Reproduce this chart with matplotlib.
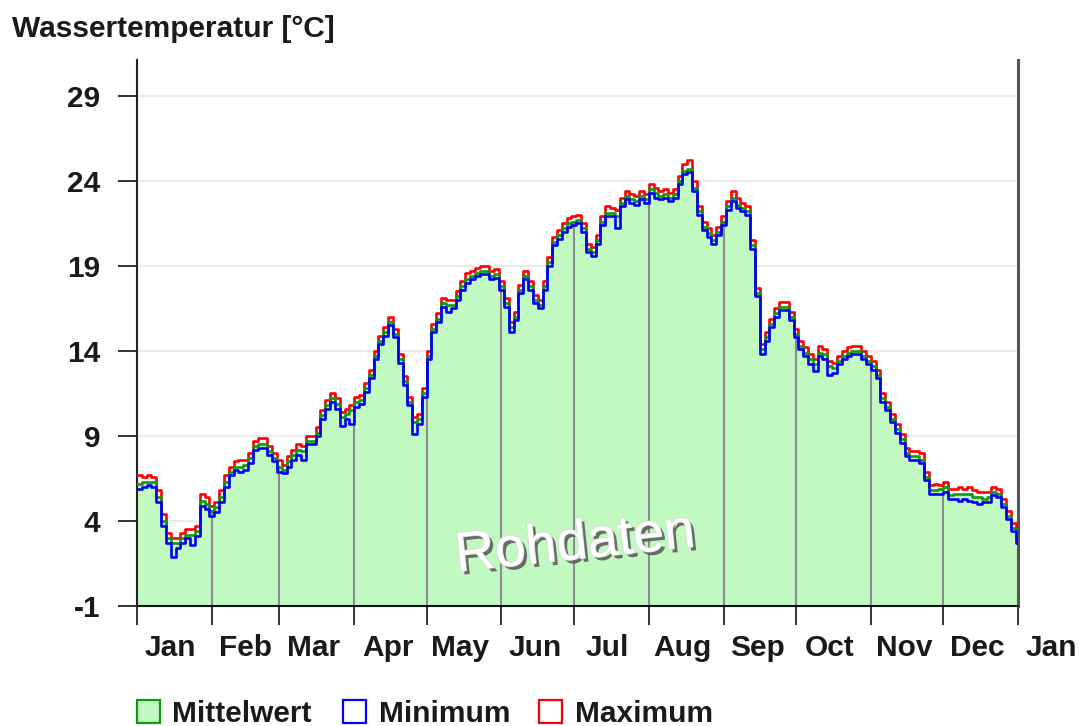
import matplotlib
matplotlib.use("Agg")
import matplotlib.pyplot as plt
import matplotlib.patheffects as pe
import matplotlib.transforms as mtransforms
from matplotlib.patches import Rectangle
import numpy as np

# ---- data: water temperature [°C], one reading every second day (day 0 = 1 Jan) ----
day_step = 2

mittelwert = [
    6.2, 6.3, 6.3, 6.3, 5.4, 4.0, 3.0, 2.7, 2.7, 3.0,
    3.2, 3.2, 3.4, 5.2, 5.0, 4.6, 4.8, 5.4, 6.3, 6.9,
    7.2, 7.2, 7.3, 7.7, 8.4, 8.5, 8.5, 8.1, 7.7, 7.2,
    7.0, 7.5, 7.9, 8.2, 8.1, 8.7, 8.7, 9.2, 10.2, 10.8,
    11.2, 10.9, 10.1, 10.3, 10.5, 11.0, 11.1, 11.8, 12.6, 13.7,
    14.6, 15.1, 15.7, 15.0, 13.5, 12.2, 11.0, 9.8, 10.0, 11.5,
    13.7, 15.3, 15.9, 16.8, 16.7, 16.7, 17.2, 17.8, 18.2, 18.4,
    18.6, 18.7, 18.7, 18.4, 18.5, 17.8, 16.8, 15.4, 16.0, 17.6,
    18.4, 17.8, 17.0, 16.7, 17.8, 19.2, 20.4, 20.8, 21.2, 21.5,
    21.6, 21.7, 21.2, 20.0, 19.8, 20.5, 21.6, 22.1, 22.1, 21.9,
    22.7, 23.1, 22.9, 22.8, 23.1, 22.9, 23.5, 23.3, 23.1, 23.2,
    23.0, 23.2, 24.0, 24.6, 24.7, 23.6, 22.2, 21.3, 20.9, 20.5,
    21.0, 21.6, 22.5, 23.0, 22.6, 22.4, 22.2, 20.2, 17.4, 14.1,
    14.8, 15.6, 16.2, 16.6, 16.6, 16.0, 15.0, 14.3, 13.9, 13.5,
    13.2, 13.9, 13.8, 13.1, 13.0, 13.4, 13.7, 13.9, 14.0, 14.0,
    13.7, 13.4, 13.1, 12.6, 11.2, 10.7, 10.0, 9.4, 8.8, 8.0,
    7.8, 7.8, 7.6, 6.6, 5.8, 5.8, 5.9, 6.0, 5.5, 5.6,
    5.6, 5.6, 5.6, 5.4, 5.4, 5.3, 5.4, 5.7, 5.6, 5.0,
    4.3, 3.6, 3.0,
]

minimum = [
    5.9, 6.0, 6.1, 6.0, 5.1, 3.7, 2.7, 1.9, 2.4, 2.7,
    3.0, 2.6, 3.1, 4.9, 4.7, 4.3, 4.5, 5.1, 6.0, 6.7,
    7.0, 6.9, 7.0, 7.4, 8.2, 8.3, 8.3, 7.9, 7.5, 6.9,
    6.8, 7.2, 7.6, 7.9, 7.6, 8.5, 8.5, 9.0, 10.0, 10.6,
    11.0, 10.6, 9.6, 10.0, 9.7, 10.7, 10.9, 11.6, 12.4, 13.5,
    14.4, 14.9, 15.5, 14.8, 13.3, 12.0, 10.8, 9.1, 9.7, 11.3,
    13.5, 15.1, 15.7, 16.6, 16.3, 16.5, 17.0, 17.6, 18.0, 18.2,
    18.4, 18.5, 18.5, 18.2, 18.3, 17.6, 16.6, 15.1, 15.8, 17.4,
    18.2, 17.6, 16.8, 16.5, 17.6, 19.0, 20.2, 20.6, 21.0, 21.3,
    21.4, 21.5, 21.0, 19.8, 19.6, 20.3, 21.4, 21.9, 21.9, 21.2,
    22.5, 22.9, 22.7, 22.6, 22.9, 22.7, 23.3, 23.0, 22.9, 23.0,
    22.8, 23.0, 23.8, 24.4, 24.5, 23.4, 22.0, 21.1, 20.7, 20.3,
    20.8, 21.4, 22.3, 22.8, 22.4, 22.2, 22.0, 20.0, 17.2, 13.8,
    14.6, 15.4, 16.0, 16.4, 16.4, 15.8, 14.8, 14.1, 13.7, 13.2,
    12.8, 13.7, 13.5, 12.6, 12.7, 13.2, 13.5, 13.7, 13.8, 13.8,
    13.5, 13.2, 12.9, 12.4, 11.0, 10.5, 9.8, 9.2, 8.6, 7.8,
    7.6, 7.6, 7.4, 6.4, 5.6, 5.6, 5.6, 5.7, 5.3, 5.3,
    5.2, 5.3, 5.2, 5.1, 5.0, 5.1, 5.1, 5.5, 5.4, 4.8,
    4.1, 3.4, 2.7,
]

maximum = [
    6.7, 6.6, 6.7, 6.6, 5.8, 4.4, 3.3, 3.0, 3.0, 3.3,
    3.5, 3.5, 3.7, 5.6, 5.4, 4.9, 5.1, 5.8, 6.7, 7.2,
    7.5, 7.6, 7.6, 8.0, 8.7, 8.9, 8.9, 8.4, 8.0, 7.6,
    7.3, 7.8, 8.2, 8.5, 8.4, 9.0, 9.0, 9.5, 10.5, 11.1,
    11.5, 11.2, 10.4, 10.6, 10.8, 11.3, 11.4, 12.1, 12.9, 14.0,
    14.9, 15.4, 16.0, 15.3, 13.8, 12.5, 11.3, 10.1, 10.3, 11.8,
    14.0, 15.6, 16.2, 17.1, 17.0, 17.0, 17.5, 18.1, 18.6, 18.7,
    18.9, 19.0, 19.0, 18.7, 18.8, 18.1, 17.1, 15.7, 16.3, 17.9,
    18.7, 18.1, 17.3, 17.0, 18.1, 19.5, 20.7, 21.1, 21.5, 21.8,
    21.9, 22.0, 21.5, 20.3, 20.1, 20.8, 21.9, 22.5, 22.4, 22.3,
    23.0, 23.4, 23.2, 23.1, 23.4, 23.2, 23.8, 23.6, 23.4, 23.5,
    23.3, 23.5, 24.3, 25.0, 25.2, 24.0, 22.5, 21.6, 21.2, 20.8,
    21.3, 21.9, 22.8, 23.4, 23.0, 22.7, 22.5, 20.5, 17.7, 14.4,
    15.1, 15.9, 16.5, 16.9, 16.9, 16.3, 15.3, 14.6, 14.2, 13.8,
    13.5, 14.3, 14.1, 13.4, 13.3, 13.7, 14.0, 14.2, 14.3, 14.3,
    14.0, 13.7, 13.4, 12.9, 11.5, 11.0, 10.3, 9.7, 9.1, 8.3,
    8.1, 8.1, 8.0, 6.9, 6.1, 6.2, 6.1, 6.3, 5.9, 5.9,
    6.0, 5.9, 6.0, 5.8, 5.7, 5.7, 5.7, 6.0, 5.9, 5.3,
    4.6, 3.9, 3.4,
]

month_names = ["Jan", "Feb", "Mar", "Apr", "May", "Jun", "Jul",
               "Aug", "Sep", "Oct", "Nov", "Dec", "Jan"]
month_starts = [0, 31, 59, 90, 120, 151, 181, 212, 243, 273, 304, 334, 365]
y_ticks = [-1, 4, 9, 14, 19, 24, 29]

title = "Wassertemperatur [°C]"
watermark = "Rohdaten"
legend_labels = ["Mittelwert", "Minimum", "Maximum"]

# ---- styling ----
W, H = 1079, 726
FONT = "Liberation Sans"
FS = 21.5
FILL = "#c1f9c1"
GREEN, BLUE, RED = "#109a10", "#0000ff", "#ff0000"

plt.rcParams["font.family"] = [FONT, "DejaVu Sans"]

fig = plt.figure(figsize=(W / 100, H / 100), dpi=100)
ax = fig.add_axes([137 / W, 1 - 606 / H, (1018 - 137) / W, (606 - 60) / H])

days = np.arange(len(mittelwert)) * day_step
edges = np.append(days, 365)


def stepped(values):
    v = np.asarray(values, dtype=float)
    return np.append(v, v[-1])


ax.set_xlim(0, 365)
ax.set_ylim(-1, 31.1)

# horizontal grid behind the filled area
ax.set_yticks(y_ticks)
ax.yaxis.grid(True, color="#ebebeb", lw=1.6)
ax.set_axisbelow(True)

ax.fill_between(edges, -1, stepped(mittelwert), step="post",
                color=FILL, lw=0, zorder=1)

# month separators inside the filled area
mean_arr = np.asarray(mittelwert)
for s in month_starts[1:-1]:
    top = mean_arr[min(s // day_step, len(mean_arr) - 1)]
    ax.plot([s, s], [-1, top], color="#8c8c8c", lw=1.5, zorder=2)

ax.step(edges, stepped(maximum), where="post", color=RED, lw=1.9, zorder=3)
ax.step(edges, stepped(mittelwert), where="post", color=GREEN, lw=1.9, zorder=4)
ax.step(edges, stepped(minimum), where="post", color=BLUE, lw=1.9, zorder=5)

# spines
ax.spines["top"].set_visible(False)
ax.spines["left"].set_color("#222222")
ax.spines["left"].set_linewidth(1.5)
ax.spines["bottom"].set_color("#111111")
ax.spines["bottom"].set_linewidth(1.5)
ax.spines["right"].set_color("#555555")
ax.spines["right"].set_linewidth(2.2)

# y axis
ax.set_yticklabels([str(t) for t in y_ticks], fontsize=FS, fontweight="bold",
                   color="#1a1a1a")
ax.tick_params(axis="y", length=13.5, width=1.3, pad=13, color="#222222")

# x axis: tick marks at month boundaries, names placed inside each month
ax.set_xticks(month_starts)
ax.set_xticklabels([""] * len(month_starts))
ax.tick_params(axis="x", length=14, width=1.3, color="#222222")
xform = mtransforms.blended_transform_factory(ax.transData, fig.transFigure)
for s, name in zip(month_starts, month_names):
    ax.text(s + 14, 1 - 656 / H, name, transform=xform, ha="center",
            va="baseline", fontsize=FS, fontweight="bold", color="#1a1a1a",
            clip_on=False)

# title
fig.text(12 / W, 1 - 37 / H, title, ha="left", va="baseline",
         fontsize=FS, fontweight="bold", color="#1a1a1a")

# watermark
fig.text(575 / W, 1 - 545 / H, watermark, ha="center", va="center",
         rotation=6, fontsize=40, color="white", zorder=6,
         path_effects=[pe.withSimplePatchShadow(offset=(2.5, -2.5),
                                                shadow_rgbFace="#555555",
                                                alpha=0.85),
                       pe.Stroke(linewidth=1.0, foreground="#d8d8d8"),
                       pe.Normal()])

# legend
legend_items = [
    (137, FILL, GREEN, 172),
    (343, "white", BLUE, 379),
    (539, "white", RED, 575),
]
for (bx, face, edge, tx), label in zip(legend_items, legend_labels):
    fig.add_artist(Rectangle((bx / W, 1 - 723 / H), 23 / W, 23 / H,
                             transform=fig.transFigure, facecolor=face,
                             edgecolor=edge, lw=1.6))
    fig.text(tx / W, 1 - 722 / H, label, ha="left", va="baseline",
             fontsize=FS, fontweight="bold", color="#1a1a1a")

fig.savefig("out.png", dpi=100)
